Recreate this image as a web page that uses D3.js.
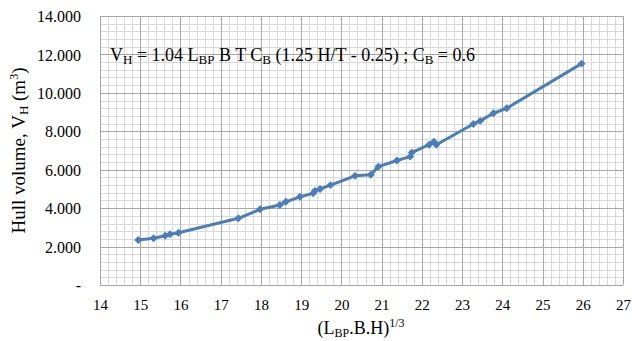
<!DOCTYPE html>
<html>
  <head>
    <script src="https://d3js.org/d3.v7.min.js"></script>
    <style>
      body { margin: 0; background: #fff; }
      text { font-family: "Liberation Serif", "Times New Roman", serif; fill: #000; }
      .grid-minor line { stroke: #d9d9d9; stroke-width: 1px; }
      .grid-major line { stroke: #a6a6a6; stroke-width: 1px; }
    </style>
  </head>
  <body>
    <script>

// (L_BP.B.H)^(1/3)
var xVals = [14.95, 15.33, 15.62, 15.74, 15.95, 17.44, 17.98, 18.47, 18.62, 18.97,
             19.30, 19.34, 19.47, 19.73, 20.34, 20.73, 20.92, 21.38, 21.71, 21.75,
             22.18, 22.30, 22.36, 23.28, 23.45, 23.78, 24.11, 25.97];
// hull volume V_H (m3)
var yVals = [2340, 2430, 2560, 2640, 2720, 3470, 3940, 4160, 4330, 4590,
             4770, 4900, 5000, 5200, 5680, 5740, 6160, 6480, 6680, 6890,
             7300, 7460, 7300, 8380, 8540, 8940, 9200, 11520];

var xTicks = [14, 15, 16, 17, 18, 19, 20, 21, 22, 23, 24, 25, 26, 27];
var yTicks = [0, 2000, 4000, 6000, 8000, 10000, 12000, 14000];
var yTickLabels = ["-", "2.000", "4.000", "6.000", "8.000", "10.000", "12.000", "14.000"];

var width = 632,
    height = 341;
var margin = {left: 100, right: 9, top: 16, bottom: 56};

var svg = d3.select("body").append("svg")
    .attr("width", width)
    .attr("height", height);

var x = d3.scaleLinear().domain([14, 27]).range([margin.left, width - margin.right]);
var y = d3.scaleLinear().domain([0, 14000]).range([height - margin.bottom, margin.top]);

// minor grid
var xMinor = d3.range(14, 27.001, 0.2);
var yMinor = d3.range(0, 14001, 400);

svg.append("g").attr("class", "grid-minor")
  .selectAll("line").data(xMinor).enter().append("line")
    .attr("x1", function(d) { return Math.round(x(d)) + 0.5; })
    .attr("x2", function(d) { return Math.round(x(d)) + 0.5; })
    .attr("y1", y(0)).attr("y2", y(14000));
svg.append("g").attr("class", "grid-minor")
  .selectAll("line").data(yMinor).enter().append("line")
    .attr("y1", function(d) { return Math.round(y(d)) + 0.5; })
    .attr("y2", function(d) { return Math.round(y(d)) + 0.5; })
    .attr("x1", x(14)).attr("x2", x(27));

// major grid
svg.append("g").attr("class", "grid-major")
  .selectAll("line").data(xTicks).enter().append("line")
    .attr("x1", function(d) { return Math.round(x(d)) + 0.5; })
    .attr("x2", function(d) { return Math.round(x(d)) + 0.5; })
    .attr("y1", y(0)).attr("y2", y(14000));
svg.append("g").attr("class", "grid-major")
  .selectAll("line").data(yTicks).enter().append("line")
    .attr("y1", function(d) { return Math.round(y(d)) + 0.5; })
    .attr("y2", function(d) { return Math.round(y(d)) + 0.5; })
    .attr("x1", x(14)).attr("x2", x(27));

// axes (labels only)
var xAxis = svg.append("g")
    .attr("transform", "translate(0," + (y(0) + 8) + ")")
    .call(d3.axisBottom(x).tickValues(xTicks).tickSize(0).tickPadding(6));
xAxis.select(".domain").remove();
xAxis.selectAll(".tick text").style("font-size", "15px")
    .style("font-family", "'Liberation Serif', serif");

var yAxis = svg.append("g")
    .attr("transform", "translate(" + (x(14) - 6) + ",0)")
    .call(d3.axisLeft(y).tickValues(yTicks).tickSize(0).tickPadding(13)
      .tickFormat(function(d, i) { return yTickLabels[i]; }));
yAxis.select(".domain").remove();
yAxis.selectAll(".tick text").attr("dy", "0.35em").style("font-size", "16px")
    .style("font-family", "'Liberation Serif', serif");

// series
var pts = xVals.map(function(d, i) { return [d, yVals[i]]; });
var blue = "#4a7ebb";

svg.append("path")
    .datum(pts)
    .attr("fill", "none")
    .attr("stroke", blue)
    .attr("stroke-width", 3)
    .attr("stroke-linejoin", "round")
    .attr("d", d3.line().x(function(d) { return x(d[0]); }).y(function(d) { return y(d[1]); }));

svg.append("g").selectAll("rect").data(pts).enter().append("rect")
    .attr("x", -2.8).attr("y", -2.8)
    .attr("width", 5.6).attr("height", 5.6)
    .attr("fill", blue)
    .attr("transform", function(d) { return "translate(" + x(d[0]) + "," + y(d[1]) + ") rotate(45)"; });

// formula annotation
var f = svg.append("text")
    .attr("x", 110).attr("y", 61)
    .style("font-size", "18px");
function part(t, sub) {
  var s = f.append("tspan").text(t);
  if (sub) s.attr("baseline-shift", "-25%").style("font-size", "13px");
}
part("V");
part("H", true);
part(" = 1.04 L");
part("BP", true);
part(" B  T C");
part("B", true);
part(" (1.25 H/T - 0.25) ; C");
part("B", true);
part(" = 0.6");

// y title
var yt = svg.append("text")
    .attr("transform", "translate(25," + ((y(0) + y(14000)) / 2) + ") rotate(-90)")
    .attr("text-anchor", "middle")
    .style("font-size", "19px");
yt.append("tspan").text("Hull volume, V");
yt.append("tspan").text("H").attr("baseline-shift", "-25%").style("font-size", "13px");
yt.append("tspan").text(" (m");
yt.append("tspan").text("3").attr("baseline-shift", "super").style("font-size", "12px");
yt.append("tspan").text(")");

// x title
var xt = svg.append("text")
    .attr("x", 361).attr("y", 334)
    .attr("text-anchor", "middle")
    .style("font-size", "18px");
xt.append("tspan").text("(L");
xt.append("tspan").text("BP").attr("baseline-shift", "-25%").style("font-size", "12px");
xt.append("tspan").text(".B.H)");
xt.append("tspan").text("1/3").attr("baseline-shift", "super").style("font-size", "12px");

    </script>
  </body>
</html>
